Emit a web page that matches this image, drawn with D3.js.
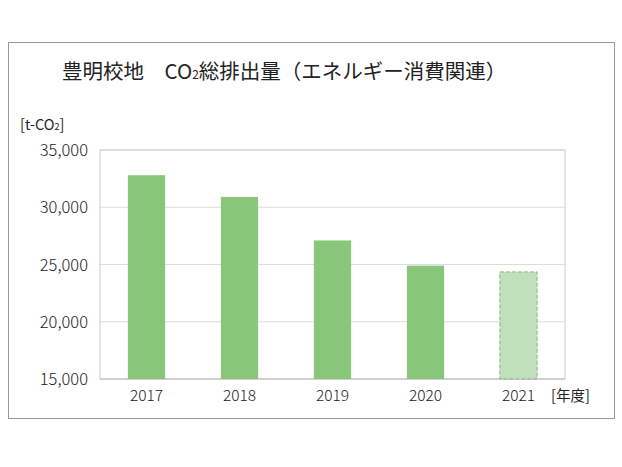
<!DOCTYPE html><html><head><meta charset="utf-8"><script src="https://cdn.jsdelivr.net/npm/d3@7"></script>
<style>body{margin:0;background:#fff}text{font-family:"Noto Sans CJK JP",sans-serif;fill:#222}</style></head><body><svg id="c" width="622" height="467"></svg><script>
const years=["2017","2018","2019","2020","2021"];
const values=[32800,30900,27100,24900,24350];
const estimated=[false,false,false,false,true];
const yTicks=[15000,20000,25000,30000,35000];
const svg=d3.select("#c");
svg.append("rect").attr("x",8.5).attr("y",42.5).attr("width",606).attr("height",376).attr("fill","#fff").attr("stroke","#999");
const L=100,R=565,T=150,B=379;
const x=d3.scaleBand().domain(years).range([L,R]).paddingInner(0.6).paddingOuter(0.3);
const y=d3.scaleLinear().domain([15000,35000]).range([B,T]);
svg.append("g").selectAll("line").data(yTicks).join("line").attr("x1",L).attr("x2",R).attr("y1",d=>y(d)).attr("y2",d=>y(d)).attr("stroke",d=>d==15000?"#aaa":"#ddd").attr("stroke-width",1.2);
svg.append("rect").attr("x",L).attr("y",T).attr("width",R-L).attr("height",B-T).attr("fill","none").attr("stroke","#ccc");
svg.append("g").selectAll("rect").data(years).join("rect").attr("x",d=>x(d)).attr("width",x.bandwidth())
 .attr("y",(d,i)=>y(values[i])).attr("height",(d,i)=>B-y(values[i]))
 .attr("fill",(d,i)=>estimated[i]?"#c0e0bb":"#88c77a").attr("stroke",(d,i)=>estimated[i]?"#88b47e":"none").attr("stroke-dasharray","4,2");
svg.append("g").selectAll("text").data(yTicks).join("text").attr("x",88).attr("y",d=>y(d)+6).attr("text-anchor","end").attr("font-size",16.5).attr("font-weight",300).text(d3.format(","));
svg.append("g").selectAll("text").data(years).join("text").attr("x",d=>x(d)+x.bandwidth()/2).attr("y",401).attr("text-anchor","middle").attr("font-size",15.5).attr("font-weight",300).text(d=>d);
svg.append("text").attr("x",551).attr("y",401).attr("font-size",14.5).text("[年度]");
svg.append("text").attr("x",20).attr("y",130).attr("font-size",14.5).html('[t-CO<tspan font-size="9">2</tspan>]');
svg.append("text").attr("x",62).attr("y",79).attr("font-size",20.5).html('豊明校地　CO<tspan font-size="12">2</tspan>総排出量（エネルギー消費関連）');
</script></body></html>
